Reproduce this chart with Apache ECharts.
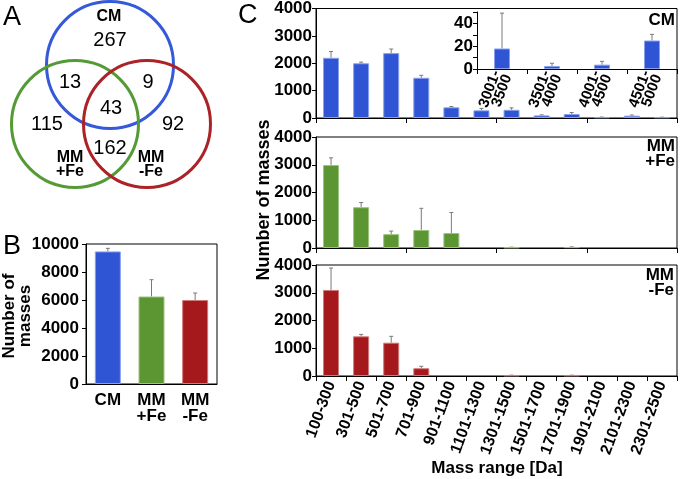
<!DOCTYPE html>
<html>
<head>
<meta charset="utf-8">
<script src="https://cdn.jsdelivr.net/npm/echarts@6/dist/echarts.min.js"></script>
<style>
html,body{margin:0;padding:0;background:#fff;}
#main{width:680px;height:479px;}
</style>
</head>
<body>
<div id="main"></div>
<script>
// ---- Data ----
const vennCounts = [267, 13, 9, 43, 115, 92, 162];
const vennSetNames = ['CM', 'MM\n+Fe', 'MM\n-Fe'];

const totalCategories = ['CM', 'MM +Fe', 'MM -Fe'];
const totalValues = [9470, 6250, 6000];
const totalErrors = [220, 1200, 500];

const massRanges = ['100-300', '301-500', '501-700', '701-900', '901-1100', '1101-1300',
  '1301-1500', '1501-1700', '1701-1900', '1901-2100', '2101-2300', '2301-2500'];
const cmValues = [2200, 2000, 2370, 1470, 390, 280, 300, 95, 145, 25, 85, 25];
const cmErrors = [230, 40, 150, 90, 30, 70, 70, 20, 55, 10, 25, 5];
const mmFeValues = [2990, 1470, 500, 650, 540, 0, 20, 0, 30, 0, 0, 0];
const mmFeErrors = [260, 170, 110, 780, 740, 0, 10, 0, 10, 0, 0, 0];
const mmNoFeValues = [3100, 1430, 1200, 280, 0, 0, 20, 0, 20, 0, 0, 0];
const mmNoFeErrors = [790, 70, 230, 70, 0, 0, 10, 0, 10, 0, 0, 0];

const insetRanges = ['3001-3500', '3501-4000', '4001-4500', '4501-5000'];
const insetValues = [18, 2.6, 3.8, 25];
const insetErrors = [31, 2.4, 2.9, 5.4];

const massTicks = [0, 1000, 2000, 3000, 4000];

// ---- Layout / style (kept separate from data) ----
const FONT = 'Liberation Sans, Arial, sans-serif';
const BLUE = '#2f55d4', GREEN = '#5b9632', RED = '#a5181b';
const BLUE_EDGE = '#8aa0ee', GREEN_EDGE = '#9cc47f', RED_EDGE = '#d07a7a';
const vennCircleLayout = [[110, 65], [75, 124], [147, 124]];
const vennCircleColors = ['#3559d9', '#559b35', '#ab2326'];
const vennCountLayout = [[110, 40], [70, 82], [148, 82], [111, 108], [47, 124], [173, 124], [110, 148]];
const vennNameLayout = [[109, 17], [70, 165], [151, 165]];

const chart = echarts.init(document.getElementById('main'), null, {renderer: 'canvas'});

function errRender(params, api) {
  const x = api.value(0), y = api.value(1), e = api.value(2);
  if (!e) return null;
  const p0 = api.coord([x, y]);
  const p1 = api.coord([x, y + e]);
  return {
    type: 'group',
    children: [
      {type: 'line', shape: {x1: p0[0], y1: p0[1], x2: p1[0], y2: p1[1]}, style: {stroke: '#7a7a7a', lineWidth: 1}},
      {type: 'line', shape: {x1: p1[0] - 2, y1: p1[1], x2: p1[0] + 2, y2: p1[1]}, style: {stroke: '#7a7a7a', lineWidth: 1}}
    ]
  };
}
function errData(vals, errs) { return vals.map((v, i) => [i, v, errs[i]]); }
function barData(vals, color, edge) {
  return vals.map(v => ({value: v, itemStyle: v ? {color: color, borderColor: edge, borderWidth: 1} : {color: 'rgba(0,0,0,0)', borderWidth: 0}}));
}

const labelStyle = {color: '#000', fontFamily: FONT, fontWeight: 'bold', fontSize: 17};
const axisLine = {show: true, lineStyle: {color: '#000', width: 1}};
const tick = {show: true, length: 4, lineStyle: {color: '#000', width: 1}};
const plain = v => String(v);

function catAxis(grid, data, labelOpts) {
  return {
    type: 'category', gridIndex: grid, data: data,
    axisLine: axisLine, axisTick: Object.assign({}, tick, {length: 5}),
    axisLabel: labelOpts || {show: false},
    splitLine: {show: false}
  };
}
function valAxis(grid, min, max, interval, extra) {
  return Object.assign({
    type: 'value', gridIndex: grid, min: min, max: max, interval: interval,
    axisLine: axisLine, axisTick: tick,
    axisLabel: Object.assign({margin: 4, formatter: plain}, labelStyle),
    splitLine: {show: false}
  }, extra || {});
}

const gridBorder = {show: true, borderColor: '#000', borderWidth: 1, backgroundColor: 'transparent'};

const option = {
  animation: false,
  backgroundColor: '#fff',
  grid: [
    {left: 0, top: 0, width: 230, height: 200},                                   // 0 venn
    Object.assign({left: 86, top: 244, width: 131, height: 140}, gridBorder),     // 1 B
    Object.assign({left: 316, top: 8, width: 361, height: 110}, gridBorder),      // 2 C CM
    {left: 477, top: 12, width: 200, height: 57},                                 // 3 inset
    Object.assign({left: 316, top: 137, width: 361, height: 111}, gridBorder),    // 4 C MM+Fe
    Object.assign({left: 316, top: 265, width: 361, height: 111}, gridBorder)     // 5 C MM-Fe
  ],
  xAxis: [
    {type: 'value', gridIndex: 0, min: 0, max: 230, show: false},
    {
      type: 'category', gridIndex: 1, data: totalCategories,
      axisLine: axisLine, axisTick: {show: false},
      axisLabel: Object.assign({margin: 8, lineHeight: 16, formatter: v => v.replace(' ', '\n')}, labelStyle)
    },
    catAxis(2, massRanges),
    catAxis(3, insetRanges, Object.assign({interval: 0, rotate: 70, margin: 4, lineHeight: 12,
      formatter: v => v.replace('-', '-\n')}, labelStyle, {fontSize: 15})),
    catAxis(4, massRanges),
    catAxis(5, massRanges, Object.assign({interval: 0, rotate: 70, margin: 6}, labelStyle, {fontSize: 16}))
  ],
  yAxis: [
    {type: 'value', gridIndex: 0, min: 0, max: 200, inverse: true, show: false},
    valAxis(1, 0, 10000, 2000, {axisLabel: Object.assign({margin: 7, formatter: plain}, labelStyle)}),
    valAxis(2, massTicks[0], massTicks[massTicks.length - 1], 1000),
    valAxis(3, 0, 50, 10, {axisLabel: Object.assign({margin: 4, formatter: v => (v % 20 === 0 ? String(v) : '')}, labelStyle)}),
    valAxis(4, massTicks[0], massTicks[massTicks.length - 1], 1000),
    valAxis(5, massTicks[0], massTicks[massTicks.length - 1], 1000)
  ],
  graphic: [
    {type: 'text', left: 3, top: 4, style: {text: 'A', font: '27px ' + FONT, fill: '#000'}},
    {type: 'text', left: 3, top: 233, style: {text: 'B', font: '27px ' + FONT, fill: '#000'}},
    {type: 'text', left: 238, top: 2, style: {text: 'C', font: '27px ' + FONT, fill: '#000'}},
    {type: 'text', x: 675, y: 20, style: {text: 'CM', font: 'bold 17px ' + FONT, fill: '#000', textAlign: 'right', textVerticalAlign: 'middle'}},
    {type: 'text', x: 675, y: 154, style: {text: 'MM\n+Fe', font: 'bold 17px ' + FONT, lineHeight: 15, fill: '#000', textAlign: 'right', textVerticalAlign: 'middle'}},
    {type: 'text', x: 674, y: 283, style: {text: 'MM\n-Fe', font: 'bold 17px ' + FONT, lineHeight: 15, fill: '#000', textAlign: 'right', textVerticalAlign: 'middle'}},
    {type: 'text', x: 264, y: 200, rotation: Math.PI / 2, style: {text: 'Number of masses', font: 'bold 18px ' + FONT, fill: '#000', textAlign: 'center', textVerticalAlign: 'middle'}},
    {type: 'text', x: 497, y: 468, style: {text: 'Mass range [Da]', font: 'bold 17px ' + FONT, fill: '#000', textAlign: 'center', textVerticalAlign: 'middle'}},
    {type: 'text', x: 17, y: 316, rotation: Math.PI / 2, style: {text: 'Number of\nmasses', font: 'bold 17px ' + FONT, lineHeight: 16, fill: '#000', textAlign: 'center', textVerticalAlign: 'middle'}}
  ],
  series: [
    {
      type: 'scatter', xAxisIndex: 0, yAxisIndex: 0, symbol: 'circle', symbolSize: 127, silent: true,
      itemStyle: {opacity: 1},
      data: vennCircleLayout.map((p, i) => ({value: p, itemStyle: {color: 'rgba(0,0,0,0)', borderColor: vennCircleColors[i], borderWidth: 3, opacity: 1}}))
    },
    {
      type: 'scatter', xAxisIndex: 0, yAxisIndex: 0, symbolSize: 1, silent: true, z: 5,
      itemStyle: {color: 'rgba(0,0,0,0)', opacity: 1},
      label: {show: true, position: 'inside', formatter: p => p.data.name, color: '#000', opacity: 1, fontFamily: FONT, fontSize: 20},
      data: vennCounts.map((c, i) => ({name: String(c), value: vennCountLayout[i]}))
    },
    {
      type: 'scatter', xAxisIndex: 0, yAxisIndex: 0, symbolSize: 1, silent: true, z: 5,
      itemStyle: {color: 'rgba(0,0,0,0)', opacity: 1},
      label: {show: true, position: 'inside', formatter: p => p.data.name, color: '#000', opacity: 1, fontFamily: FONT, fontSize: 16, fontWeight: 'bold', lineHeight: 14},
      data: vennSetNames.map((n, i) => ({name: n, value: vennNameLayout[i]}))
    },
    {
      type: 'bar', xAxisIndex: 1, yAxisIndex: 1, barWidth: 26,
      data: totalValues.map((v, i) => ({value: v, itemStyle: {color: [BLUE, GREEN, RED][i], borderColor: [BLUE_EDGE, GREEN_EDGE, RED_EDGE][i], borderWidth: 1}}))
    },
    {type: 'custom', xAxisIndex: 1, yAxisIndex: 1, renderItem: errRender, data: errData(totalValues, totalErrors), z: 1},
    {type: 'bar', xAxisIndex: 2, yAxisIndex: 2, barWidth: 16, data: barData(cmValues, BLUE, BLUE_EDGE), z: 3},
    {type: 'custom', xAxisIndex: 2, yAxisIndex: 2, renderItem: errRender, data: errData(cmValues, cmErrors), z: 2},
    {type: 'bar', xAxisIndex: 3, yAxisIndex: 3, barWidth: 16, data: barData(insetValues, BLUE, BLUE_EDGE), z: 3},
    {type: 'custom', xAxisIndex: 3, yAxisIndex: 3, renderItem: errRender, data: errData(insetValues, insetErrors), z: 2},
    {type: 'bar', xAxisIndex: 4, yAxisIndex: 4, barWidth: 16, data: barData(mmFeValues, GREEN, GREEN_EDGE), z: 3},
    {type: 'custom', xAxisIndex: 4, yAxisIndex: 4, renderItem: errRender, data: errData(mmFeValues, mmFeErrors), z: 2},
    {type: 'bar', xAxisIndex: 5, yAxisIndex: 5, barWidth: 16, data: barData(mmNoFeValues, RED, RED_EDGE), z: 3},
    {type: 'custom', xAxisIndex: 5, yAxisIndex: 5, renderItem: errRender, data: errData(mmNoFeValues, mmNoFeErrors), z: 2}
  ]
};
chart.setOption(option);
</script>
</body>
</html>
